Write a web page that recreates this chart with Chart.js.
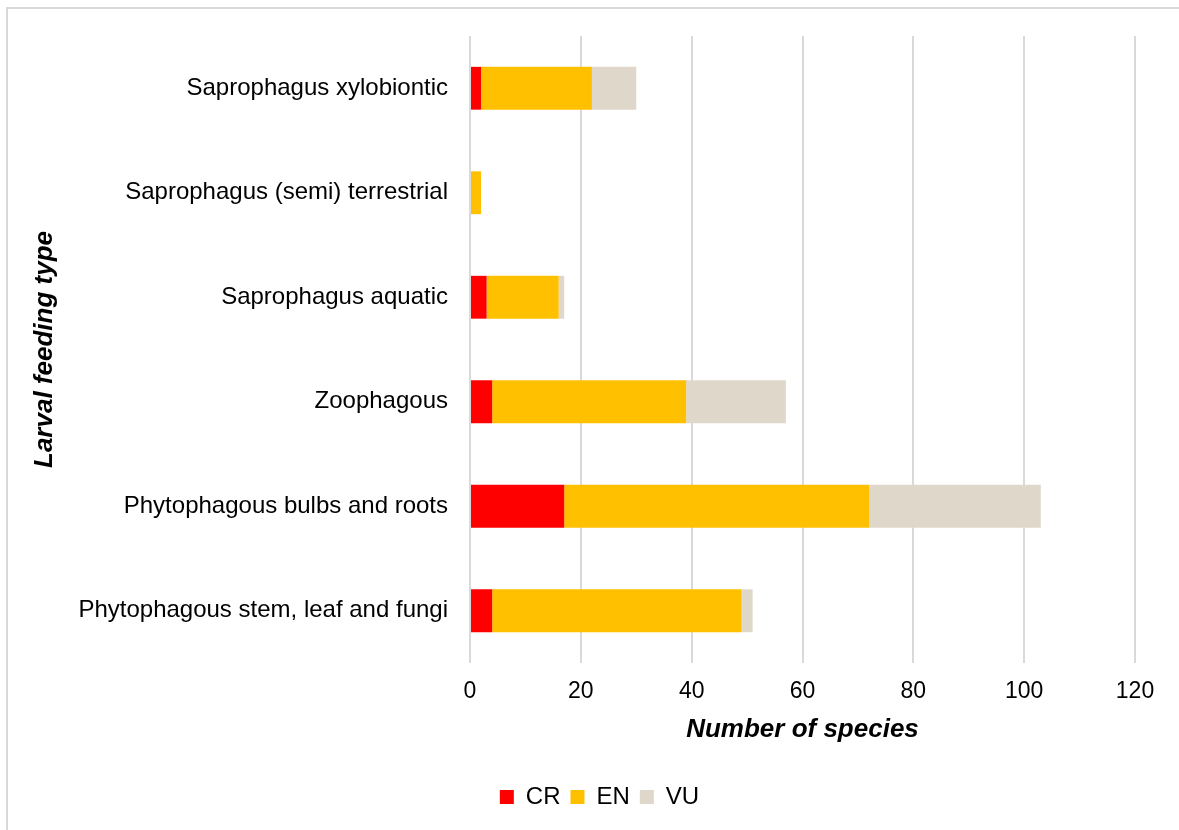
<!DOCTYPE html>
<html>
<head>
<meta charset="utf-8">
<script src="https://cdn.jsdelivr.net/npm/chart.js@4"></script>
<style>
  html, body { margin: 0; padding: 0; background: #fff; }
  #wrap { position: relative; width: 1179px; height: 830px; }
  #frame {
    position: absolute; left: 6px; top: 7px; right: 0; bottom: 0;
    border-left: 2px solid #d9d9d9; border-top: 2px solid #d9d9d9;
    pointer-events: none;
  }
  canvas { position: absolute; left: 0; top: 0; }
</style>
</head>
<body>
<div id="wrap">
  <canvas id="chart" width="1179" height="830"></canvas>
  <div id="frame"></div>
</div>
<script>
const categories = [
  'Saprophagus xylobiontic',
  'Saprophagus (semi) terrestrial',
  'Saprophagus aquatic',
  'Zoophagous',
  'Phytophagous bulbs and roots',
  'Phytophagous stem, leaf and fungi',
];
const crValues = [2, 0, 3, 4, 17, 4];
const enValues = [20, 2, 13, 35, 55, 45];
const vuValues = [8, 0, 1, 18, 31, 2];

const FONT = 'Arial, "Liberation Sans", sans-serif';

// nudge the legend right so it sits centred under the plot like the original
const legendShift = {
  id: 'legendShift',
  afterUpdate(chart) {
    chart.legend.left += 27;
    chart.legend.right += 27;
  },
};

new Chart(document.getElementById('chart'), {
  type: 'bar',
  data: {
    labels: categories,
    datasets: [
      { label: 'CR', data: crValues, backgroundColor: '#FF0000' },
      { label: 'EN', data: enValues, backgroundColor: '#FFC000' },
      { label: 'VU', data: vuValues, backgroundColor: '#DFD7CA' },
    ],
  },
  options: {
    indexAxis: 'y',
    responsive: false,
    animation: false,
    layout: { padding: { top: 36, right: 44, left: 10, bottom: 11 } },
    datasets: {
      bar: { categoryPercentage: 1, barPercentage: 0.41, borderWidth: 0 },
    },
    scales: {
      x: {
        stacked: true,
        min: 0,
        max: 120,
        ticks: { stepSize: 20, color: '#000', padding: 15, font: { family: FONT, size: 23 } },
        grid: { color: '#d9d9d9', lineWidth: 2, drawTicks: false },
        border: { display: false },
        title: {
          display: true,
          text: 'Number of species',
          color: '#000',
          font: { family: FONT, size: 26, weight: 'bold', style: 'italic' },
          padding: { bottom: 30 },
        },
        afterFit(scale) { scale.height = 112; },
      },
      y: {
        stacked: true,
        ticks: { color: '#000', padding: 14, font: { family: FONT, size: 24 } },
        grid: { display: false },
        border: { display: false },
        title: {
          display: true,
          text: 'Larval feeding type',
          color: '#000',
          font: { family: FONT, size: 26, weight: 'bold', style: 'italic' },
          padding: { top: 19 },
        },
        afterFit(scale) { scale.width = 460; },
      },
    },
    plugins: {
      legend: {
        position: 'bottom',
        labels: {
          color: '#000',
          boxWidth: 14,
          boxHeight: 14,
          padding: 10,
          font: { family: FONT, size: 24 },
        },
      },
      tooltip: { enabled: false },
    },
  },
  plugins: [legendShift],
});
</script>
</body>
</html>
